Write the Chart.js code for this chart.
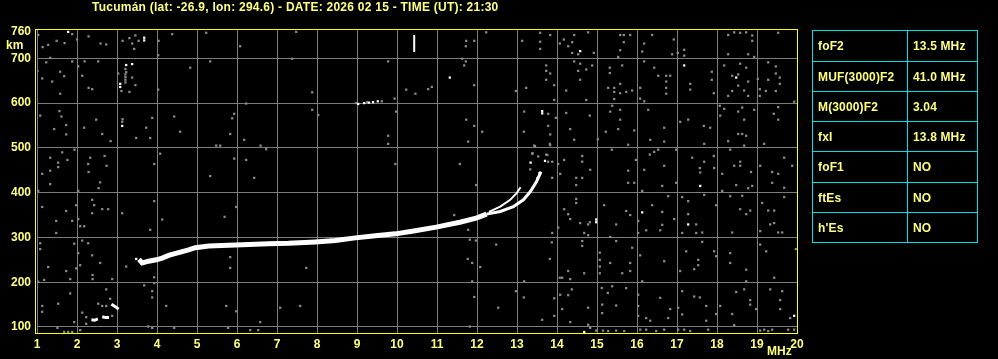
<!DOCTYPE html>
<html>
<head>
<meta charset="utf-8">
<script src="https://cdn.jsdelivr.net/npm/chart.js@4/dist/chart.umd.min.js"></script>
<style>
  body { margin: 0; background: #000; }
  #wrap { position: relative; width: 998px; height: 359px; background: #000; overflow: hidden; }
  #graph { position: absolute; left: 0; top: 0; }
  .lbl { position: absolute; font: bold 12px "Liberation Sans", Arial, sans-serif; color: #ffff80; white-space: nowrap; line-height: 14px; }
  #title { letter-spacing: 0.25px; }
  #params { position: absolute; left: 812px; top: 30px; border-collapse: collapse; font: bold 12px "Liberation Sans", Arial, sans-serif; color: #ffff80; letter-spacing: 0.15px; }
  #params td { border: 1px solid #00e0e8; padding: 0 0 0 5px; box-sizing: border-box; }
  #params td.k { width: 95px; }
  #params td.v { width: 70px; }
</style>
</head>
<body>
<div id="wrap">
  <canvas id="graph" width="998" height="359"></canvas>
  <div class="lbl" id="title" style="left:92px; top:0px;">Tucumán (lat: -26.9, lon: 294.6) - DATE: 2026 02 15 - TIME (UT): 21:30</div>
  <div class="lbl" style="left:6px; top:38px;">km</div>
  <div class="lbl" style="left:767px; top:344px;">MHz</div>
  <table id="params"></table>
</div>
<script>
// ionogram scaled parameters
const paramNames = [`foF2`, `MUF(3000)F2`, `M(3000)F2`, `fxI`, `foF1`, `ftEs`, `h'Es`];
const paramValues = [`13.5 MHz`, `41.0 MHz`, `3.04`, `13.8 MHz`, `NO`, `NO`, `NO`];

// axes
const freqTicks = [1, 2, 3, 4, 5, 6, 7, 8, 9, 10, 11, 12, 13, 14, 15, 16, 17, 18, 19, 20];
const heightTicks = [100, 200, 300, 400, 500, 600, 700, 760];

// F2 trace (MHz, km)
const f2Freq = [3.55, 3.63, 3.79, 3.98, 4.13, 4.29, 4.54, 4.79, 4.96, 5.29, 5.96, 6.79, 7.29, 7.96, 8.46, 8.96, 9.46, 9.96, 10.38, 10.98, 11.57, 11.98, 12.24];
const f2Height = [251, 243, 247, 250, 254, 260, 266, 272, 277, 281, 283, 286, 287, 290, 293, 299, 304, 308, 314, 323, 334, 343, 352];
const oCuspFreq = [12.24, 12.58, 12.91, 13.16, 13.33, 13.49, 13.6];
const oCuspHeight = [352, 358, 369, 384, 402, 425, 447];
const xCuspFreq = [12.3, 12.58, 12.83, 12.99, 13.09];
const xCuspHeight = [357, 369, 384, 399, 412];

// low echoes near 2-3 MHz (null = gap)
const lowFreq = [2.36, 2.44, 2.52, null, 2.63, 2.72, 2.8, null, 2.86, 2.95, 3.04];
const lowHeight = [116, 115, 118, null, 123, 121, 121, null, 151, 146, 140];

// short white streak at 10.4 MHz
const streakFreq = [10.43, 10.43];
const streakHeight = [714, 752];

// bright speckles
const whiteDots = [[1.78,759],[3.68,746],[3.68,740],[3.23,685],[3.38,687],[3.08,643],[3.08,636],[3.13,549],[3.48,252],[11.32,657],[14.58,716],[13.63,582],[13.63,577],[17.18,684],[18.48,657],[13.34,467],[13.7,471],[13.51,432],[13.56,443],[14.98,340],[14.98,334],[16.13,356],[17.28,329],[17.58,415],[19.93,125],[14.68,89],[9.03,598],[9.18,600],[9.3,601],[9.4,602],[9.52,604]];

// grey noise, 1-10.5 MHz
const greyDotsLow = [[1.03,752],[1.14,725],[1.28,730],[1.49,739],[1.69,734],[1.88,754],[2.0,742],[2.29,749],[2.59,733],[2.73,731],[3.14,739],[3.31,745],[3.38,733],[3.43,721],[3.46,751],[3.54,739],[4.04,739],[4.03,707],[4.38,754],[5.23,757],[6.08,727],[7.48,759],
[1.33,701],[1.23,691],[1.88,693],[2.19,693],[2.53,693],[2.03,682],[1.58,670],[1.68,660],[1.13,655],[1.38,648],[1.58,621],[2.13,661],[2.29,634],[2.38,631],[1.01,672],[3.03,666],[3.23,669],[3.21,676],[3.21,664],[3.21,658],[3.21,652],[3.21,646],[3.38,657],[3.46,640],[3.31,625],[3.11,627],[4.03,630],[4.83,679],[5.33,693],[7.38,699],[7.88,624],[9.78,693],[10.23,630],[10.46,621],
[1.08,572],[1.56,582],[1.61,570],[1.73,551],[1.43,542],[1.73,530],[2.18,545],[2.48,563],[2.63,531],[2.84,515],[3.14,564],[3.13,558],[3.88,567],[3.73,545],[3.83,522],[3.48,522],[4.43,570],[4.58,536],[5.93,576],[5.88,566],[5.83,531],[6.18,518],[6.23,599],[7.88,585],[8.03,573],[9.98,581],[9.78,527],[9.78,509],[8.98,600],[9.25,602],[9.62,604],[9.94,610],
[1.33,478],[1.53,467],[1.53,457],[1.63,490],[1.76,473],[1.13,442],[1.33,449],[1.94,496],[2.28,464],[2.33,478],[2.29,446],[2.69,482],[2.74,460],[3.93,464],[4.08,487],[5.48,505],[5.58,505],[5.33,437],[5.93,476],[6.23,473],[6.43,433],[6.59,505],[6.73,497],[9.96,464],
[1.33,419],[2.58,423],[2.54,410],[2.03,404],[1.03,404],[1.13,368],[1.73,359],[1.98,372],[2.38,384],[2.43,372],[2.63,363],[2.78,363],[3.13,354],[3.93,381],[1.48,337],[1.88,337],[2.03,341],[2.08,325],[2.18,325],[2.38,354],[1.48,310],[3.83,317],[4.13,340],[5.69,346],[5.98,368],
[1.08,287],[1.08,274],[1.93,286],[2.03,265],[2.13,293],[2.28,287],[2.38,260],[2.58,243],[2.08,238],[1.28,234],[1.73,225],[1.98,231],[1.83,207],[2.39,216],[2.39,207],[2.88,207],[3.23,235],[1.18,205],[1.03,201],[3.93,211],[3.93,198],[3.68,193],[5.83,256],[5.83,232],[7.73,232],
[1.83,175],[2.73,184],[3.88,180],[3.88,166],[1.13,147],[1.13,134],[1.53,152],[2.53,152],[2.63,147],[2.73,147],[4.23,147],[5.73,147],[7.08,143],[7.58,147],[5.98,135],[6.58,111],[2.13,132],[2.23,122],[1.93,111],[2.23,107],[1.51,98],[1.68,89],[1.78,89],[1.88,89],[2.08,93],[3.78,101],[3.88,98],[4.43,98],[5.78,98],[6.33,93],[6.53,93],[2.83,163],[2.88,125]];

// grey noise, 10.5-20 MHz
const greyDotsHigh = [[11.73,739],[11.93,739],[11.72,727],[12.23,758],[13.13,739],[13.58,757],[13.58,737],[13.58,721],[13.83,752],[14.07,733],[14.17,742],[14.28,727],[14.38,736],[14.43,752],[14.38,712],[14.53,709],[14.78,758],[14.92,712],[15.58,752],[15.67,752],[15.83,752],[15.58,718],[15.53,703],[15.67,736],[16.18,733],[16.13,715],[16.38,752],[16.92,742],[17.18,719],[17.18,706],[17.02,712],[16.88,709],[18.28,752],[18.43,758],[18.58,757],[18.73,758],[18.88,751],[18.88,739],[18.28,709],[18.78,709],[18.93,703],[19.53,757],
[11.63,699],[11.72,693],[11.68,684],[11.93,640],[10.78,631],[10.87,636],[12.97,627],[13.23,634],[13.73,684],[13.73,672],[13.83,666],[13.73,652],[13.93,640],[13.93,607],[14.23,628],[14.43,693],[14.58,688],[14.53,672],[14.58,652],[14.73,675],[14.73,607],[14.88,684],[15.32,679],[15.32,667],[15.28,634],[15.43,634],[15.43,625],[15.43,609],[15.58,643],[15.58,622],[15.73,625],[15.88,628],[15.63,684],[16.08,634],[16.08,610],[16.18,604],[16.18,693],[16.43,679],[16.53,661],[16.73,661],[16.73,648],[16.83,661],[16.73,634],[16.73,621],[17.33,643],[17.33,630],[17.87,670],[17.87,652],[17.92,622],[18.18,684],[18.38,661],[18.53,664],[18.58,688],[18.73,679],[18.78,648],[18.53,639],[18.68,628],[18.38,627],[18.28,616],[18.78,616],[19.02,654],[19.07,631],[19.07,616],[19.22,627],[19.28,652],[19.47,682],[19.47,666],[19.57,657],[19.57,643],[19.47,627],[19.28,691],[19.93,603],
[11.73,563],[11.93,549],[12.13,536],[11.78,514],[13.18,581],[13.78,576],[13.78,549],[13.83,530],[13.17,536],[13.43,505],[13.82,509],[13.97,567],[14.23,578],[14.33,542],[14.43,518],[14.82,572],[15.02,519],[15.22,536],[15.33,581],[15.38,594],[15.58,585],[15.58,563],[15.53,542],[15.93,539],[15.78,507],[16.28,585],[16.33,518],[16.68,545],[16.68,514],[17.08,558],[17.28,563],[17.67,549],[17.83,545],[17.68,509],[18.07,594],[18.08,572],[18.18,587],[18.53,581],[18.63,590],[18.68,563],[18.53,531],[18.63,531],[18.73,527],[18.93,585],[18.28,515],[19.53,591],[19.42,576],[19.53,563],[19.18,509],[18.68,505],
[11.57,464],[13.38,487],[13.53,481],[13.73,485],[13.33,452],[13.78,469],[13.88,469],[13.88,433],[14.03,464],[14.18,473],[14.08,442],[14.63,482],[14.63,469],[14.48,433],[14.63,433],[14.83,451],[15.37,496],[15.97,473],[15.78,449],[16.32,485],[16.43,491],[16.18,451],[16.53,496],[16.68,460],[16.98,496],[17.38,478],[17.57,455],[17.58,445],[17.68,469],[17.92,482],[17.93,455],[18.13,442],[18.33,496],[18.43,460],[18.58,469],[18.58,460],[18.85,446],[19.08,460],[19.38,446],[19.53,442],[19.68,478],[19.88,460],[13.39,488],[13.76,484],[13.45,504],[13.83,506],
[11.98,417],[11.78,317],[11.82,295],[11.97,293],[11.43,350],[12.48,284],[13.88,310],[13.87,289],[14.03,322],[14.18,363],[14.28,352],[14.33,341],[14.48,417],[14.48,386],[14.48,377],[14.58,332],[14.63,292],[14.68,310],[14.78,329],[14.78,305],[14.82,334],[15.18,372],[15.33,301],[15.48,329],[15.48,292],[15.73,359],[15.78,422],[15.83,350],[15.88,277],[15.93,422],[16.03,337],[16.03,310],[16.13,404],[16.23,316],[16.38,372],[16.63,415],[16.63,357],[16.63,328],[16.58,316],[16.78,392],[16.93,341],[16.98,422],[17.13,390],[17.13,310],[17.28,381],[17.28,352],[17.48,329],[17.48,310],[17.63,311],[17.63,290],[17.68,395],[17.98,372],[18.13,404],[18.33,392],[18.38,311],[18.48,417],[18.63,393],[18.58,363],[18.73,352],[18.78,410],[18.83,360],[18.88,415],[19.08,314],[19.13,377],[19.28,360],[19.33,329],[19.43,360],[19.43,332],[19.53,311],[19.63,311],[19.68,390],[19.68,411],[19.38,422],[19.08,284],[19.23,269],[19.97,274],
[11.88,243],[11.77,252],[12.08,234],[11.88,202],[13.18,202],[13.82,252],[14.07,210],[14.13,210],[14.28,225],[14.33,207],[14.63,281],[14.68,220],[15.07,266],[15.07,250],[15.07,235],[15.07,220],[15.33,243],[15.63,220],[15.83,243],[15.83,225],[16.08,260],[16.13,202],[16.68,247],[17.08,225],[17.23,269],[17.43,229],[17.53,250],[17.53,238],[17.98,258],[17.93,269],[18.33,265],[18.33,243],[18.73,228],[18.73,202],[19.43,210],
[11.93,167],[12.53,143],[11.82,101],[12.97,180],[13.17,166],[13.63,116],[13.93,164],[13.93,125],[14.08,172],[14.13,140],[14.28,171],[14.37,184],[14.33,111],[14.78,143],[14.78,105],[15.12,187],[15.13,150],[15.13,131],[15.27,176],[15.38,191],[15.48,148],[15.73,187],[16.03,172],[16.03,147],[16.03,125],[16.23,120],[16.33,114],[16.58,165],[16.78,120],[16.83,140],[17.03,143],[17.13,180],[17.13,128],[17.43,168],[17.57,166],[17.73,147],[17.73,114],[17.98,129],[18.08,147],[18.38,129],[18.48,178],[18.68,184],[18.83,160],[18.83,150],[18.98,140],[19.33,184],[19.58,160],[19.63,180],[19.58,140],[19.83,120],[18.43,104],
[14.83,98],[14.98,92],[15.15,92],[15.28,91],[15.48,92],[15.68,91],[16.08,94],[16.23,94],[16.48,91],[16.68,94],[17.03,94],[17.18,94],[17.33,91],[17.78,94],[19.08,92],[19.18,94],[19.28,91],[19.38,94],[19.78,94],[19.93,94]];

// table
const table = document.getElementById(`params`);
const rowHeights = [31, 30, 30, 30, 31, 30, 30];
let rows = ``;
for (let i = 0; i < paramNames.length; i++) {
  rows += `<tr style="height:${rowHeights[i]}px"><td class="k">${paramNames[i]}</td><td class="v">${paramValues[i]}</td></tr>`;
}
table.innerHTML = rows;

function toPoints(fs, hs) {
  return fs.map((f, i) => (f === null ? { x: null, y: null } : { x: f, y: hs[i] }));
}
function pairs(list) {
  return list.map(([f, h]) => ({ x: f, y: h }));
}

const yellow = `#ffff80`;
const tickFont = { family: `"Liberation Sans", Arial, sans-serif`, size: 12, weight: `bold` };

const framePlugin = {
  id: `frame`,
  afterDraw(chart) {
    const { ctx, chartArea: a } = chart;
    ctx.save();
    ctx.strokeStyle = `#ffff00`;
    ctx.lineWidth = 1;
    ctx.strokeRect(a.left - 1.5, a.top - 0.5, a.right - a.left + 2, a.bottom - a.top + 1);
    ctx.restore();
  }
};

const line = (data, width) => ({
  data, showLine: true, borderColor: `#ffffff`, backgroundColor: `#ffffff`,
  borderWidth: width, pointRadius: 0, spanGaps: false, borderCapStyle: `butt`
});
const dots = (data, color) => ({
  data, showLine: false, pointStyle: `rect`, pointRadius: 1.6,
  backgroundColor: color, borderWidth: 0
});

new Chart(`graph`, {
  type: `scatter`,
  data: {
    datasets: [
      line(toPoints(f2Freq, f2Height), 5),
      line(toPoints(oCuspFreq, oCuspHeight), 3),
      line(toPoints(xCuspFreq, xCuspHeight), 2),
      line(toPoints(lowFreq, lowHeight), 3),
      line(toPoints(streakFreq, streakHeight), 2),
      dots(pairs(whiteDots), `#ffffff`),
      dots(pairs(greyDotsLow), `#8c8c8c`),
      dots(pairs(greyDotsHigh), `#8c8c8c`)
    ]
  },
  options: {
    responsive: false,
    animation: false,
    layout: { padding: { left: 0, top: 30, right: 201, bottom: 0 } },
    plugins: { legend: { display: false }, tooltip: { enabled: false } },
    scales: {
      x: {
        type: `linear`, min: 1, max: 20,
        afterFit: (s) => { s.height = 26; },
        afterBuildTicks: (s) => { s.ticks = freqTicks.map((v) => ({ value: v })); },
        grid: { color: `#7c7c7c`, lineWidth: 1, drawTicks: false },
        border: { display: false },
        ticks: { color: yellow, font: tickFont, padding: 4, maxRotation: 0, autoSkip: false }
      },
      y: {
        type: `linear`, min: 86.6, max: 763.2,
        afterFit: (s) => { s.width = 37; },
        afterBuildTicks: (s) => { s.ticks = heightTicks.map((v) => ({ value: v })); },
        grid: {
          color: (c) => (c.tick && c.tick.value === 760 ? `rgba(0,0,0,0)` : `#7c7c7c`),
          lineWidth: 1, drawTicks: false
        },
        border: { display: false },
        ticks: { color: yellow, font: tickFont, padding: 6, autoSkip: false }
      }
    }
  },
  plugins: [framePlugin]
});
</script>
</body>
</html>
